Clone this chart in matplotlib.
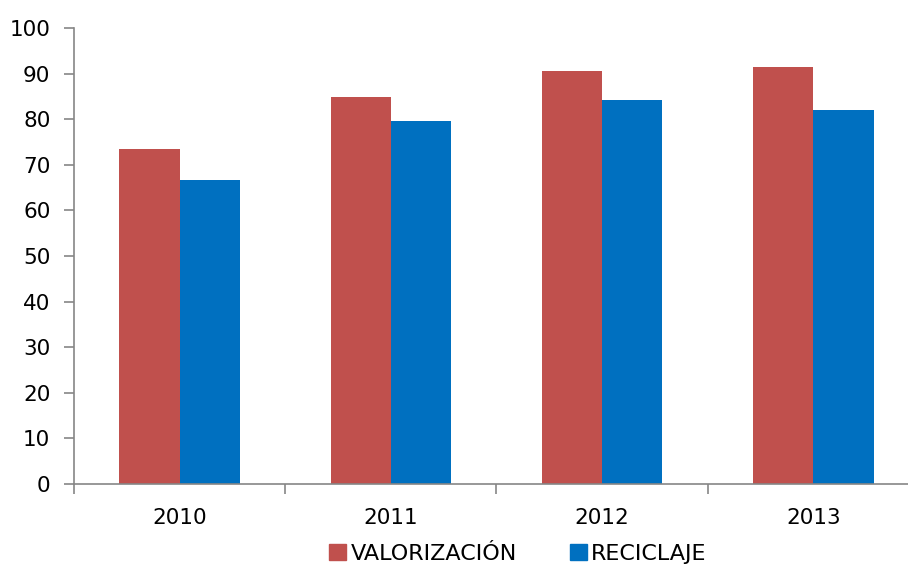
import numpy as np
import matplotlib.pyplot as plt
from matplotlib.patches import Patch

years = ['2010', '2011', '2012', '2013']
valorizacion = [73.5, 84.9, 90.6, 91.5]
reciclaje = [66.7, 79.6, 84.2, 82.1]
series_names = ['VALORIZACIÓN', 'RECICLAJE']
colors = ['#C0504D', '#0070C0']

plt.rcParams['font.family'] = ['DejaVu Sans']
fig = plt.figure(figsize=(9.08, 5.65), dpi=100)
ax = fig.add_axes([74 / 908, 81 / 565, (919 - 74) / 908, (484 - 28) / 565])

x = np.arange(len(years))
w = 0.285
ax.bar(x - w / 2, valorizacion, width=w, color=colors[0])
ax.bar(x + w / 2, reciclaje, width=w, color=colors[1])

ax.set_xlim(-0.5, len(years) - 0.5)
ax.set_ylim(0, 100)
ax.set_yticks(range(0, 101, 10))
ax.set_xticks(x)
ax.set_xticklabels(years)
ax.set_xticks(np.arange(-0.5, len(years), 1), minor=True)

gray = '#868686'
for s in ['top', 'right']:
    ax.spines[s].set_visible(False)
for s in ['left', 'bottom']:
    ax.spines[s].set_color(gray)
    ax.spines[s].set_linewidth(1.2)
ax.tick_params(axis='y', length=7, width=1.2, color=gray, labelsize=15.5, pad=10)
ax.tick_params(axis='x', which='major', length=0, labelsize=15.5, pad=17)
ax.tick_params(axis='x', which='minor', length=7, width=1.2, color=gray)

handles = [Patch(color=c, label=n) for c, n in zip(colors, series_names)]
fig.legend(handles=handles, loc='center', bbox_to_anchor=(518 / 908, 1 - 554 / 565),
           ncol=2, frameon=False, fontsize=16, handlelength=0.75, handleheight=0.75,
           handletextpad=0.2, columnspacing=2.4, borderpad=0)

fig.savefig('out.png', dpi=100)
